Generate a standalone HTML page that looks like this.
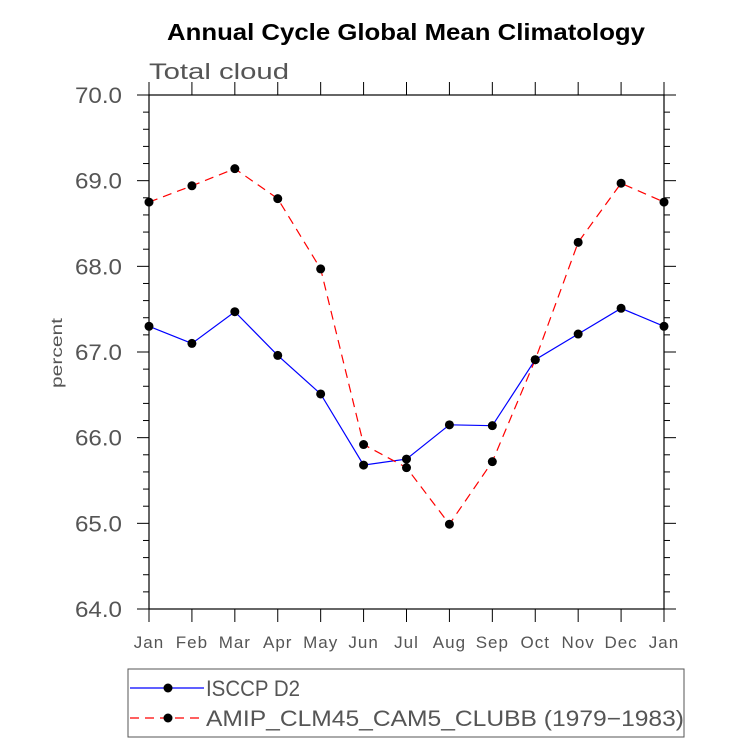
<!DOCTYPE html>
<html><head><meta charset="utf-8"><style>
body{margin:0;background:#fff;}
svg{display:block;font-family:"Liberation Sans",sans-serif;}
</style></head><body>
<svg id="c" width="733" height="744">
<text x="167" y="40" textLength="478" lengthAdjust="spacingAndGlyphs" font-size="23" font-weight="bold">Annual Cycle Global Mean Climatology</text>
<text x="149" y="79" textLength="140" lengthAdjust="spacingAndGlyphs" font-size="22" fill="#555">Total cloud</text>
<text transform="translate(62,353) rotate(-90)" text-anchor="middle" textLength="70" lengthAdjust="spacingAndGlyphs" font-size="16" fill="#555">percent</text>
<g id="axes"></g><g id="series"></g>
<rect x="128" y="669" width="556" height="68" fill="none" stroke="#555" stroke-width="1"/>
<g>
<line x1="130" y1="688" x2="204" y2="688" stroke="#00f" stroke-width="1.2"/><circle cx="168" cy="688" r="4.5"/>
<text x="206" y="696" textLength="94" lengthAdjust="spacingAndGlyphs" font-size="22" fill="#555">ISCCP D2</text></g>
<g>
<line x1="130" y1="718" x2="204" y2="718" stroke="#f00" stroke-width="1.2" stroke-dasharray="9,6"/><circle cx="168" cy="718" r="4.5"/>
<text x="206" y="726" textLength="478" lengthAdjust="spacingAndGlyphs" font-size="22" fill="#555">AMIP_CLM45_CAM5_CLUBB (1979−1983)</text></g>
</svg>
<script>
const months=["Jan","Feb","Mar","Apr","May","Jun","Jul","Aug","Sep","Oct","Nov","Dec","Jan"];
const isccp=[67.3,67.1,67.47,66.96,66.51,65.68,65.75,66.15,66.14,66.91,67.21,67.51,67.3];
const amip=[68.75,68.94,69.14,68.79,67.97,65.92,65.65,64.99,65.72,66.91,68.28,68.97,68.75];
const yTicks=[64,65,66,67,68,69,70];
const X0=149,X1=664,Y0=609,Y1=95,YMIN=64,YMAX=70;
const xs=i=>X0+(X1-X0)*i/(months.length-1);
const ys=v=>Y0-(v-YMIN)/(YMAX-YMIN)*(Y0-Y1);
const NS="http://www.w3.org/2000/svg";
function mk(t,a,p){const e=document.createElementNS(NS,t);for(const k in a)e.setAttribute(k,a[k]);p.appendChild(e);return e;}
const ax=document.getElementById('axes'),sr=document.getElementById('series');
const frame=mk('rect',{x:X0,y:Y1,width:X1-X0,height:Y0-Y1,fill:'none',stroke:'#000','stroke-width':1.2},ax);


for(let v=YMIN;v<=YMAX+1e-9;v+=0.2){
 const y=ys(v);const major=Math.abs(v-Math.round(v))<1e-6;const L=major?12:6;
 mk('line',{x1:X0-L,y1:y,x2:X0,y2:y,stroke:'#000'},ax);
 mk('line',{x1:X1,y1:y,x2:X1+L,y2:y,stroke:'#000'},ax);
}
yTicks.forEach(v=>{const t=mk('text',{x:X0-27,y:ys(v)+8,'text-anchor':'end','font-size':22,fill:'#555',textLength:47,lengthAdjust:'spacingAndGlyphs'},ax);t.textContent=v.toFixed(1);
 
 });
months.forEach((m,i)=>{const x=xs(i);
 mk('line',{x1:x,y1:Y0,x2:x,y2:Y0+13,stroke:'#000'},ax);
 mk('line',{x1:x,y1:Y1-13,x2:x,y2:Y1,stroke:'#000'},ax);
 const t=mk('text',{x:x,y:648,'text-anchor':'middle','font-size':17,fill:'#555','letter-spacing':1},ax);t.textContent=m;
 
 });
function draw(vals,color,dash,name){
 const pts=vals.map((v,i)=>xs(i)+','+ys(v)).join(' ');
 const pl=mk('polyline',{points:pts,fill:'none',stroke:color,'stroke-width':1.2},sr);
 if(dash)pl.setAttribute('stroke-dasharray',dash);
 
 
 vals.forEach((v,i)=>{const c=mk('circle',{cx:xs(i),cy:ys(v),r:4.5,fill:'#000'},sr);
  
  });
}
draw(isccp,'#00f',null,'isccp');
draw(amip,'#f00','9,6','amip');
</script>
</body></html>
